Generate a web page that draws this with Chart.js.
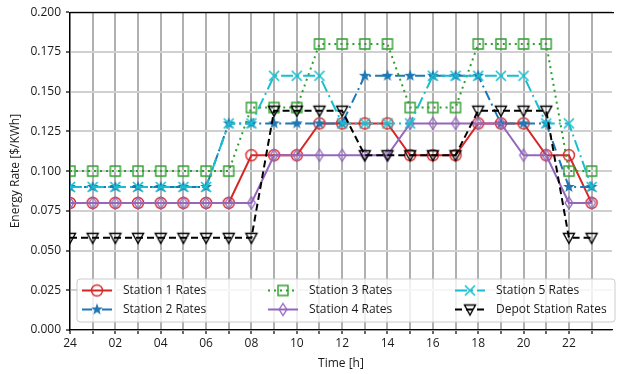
<!DOCTYPE html>
<html><head><meta charset="utf-8">
<script src="https://cdn.jsdelivr.net/npm/chart.js@4/dist/chart.umd.min.js"></script>
<style>html,body{margin:0;padding:0;background:#fff}#wrap{width:620px;height:374px}</style>
</head><body><div id="wrap"><canvas id="c" width="620" height="374"></canvas></div>
<script>
const hours = [0,1,2,3,4,5,6,7,8,9,10,11,12,13,14,15,16,17,18,19,20,21,22,23];
const station1 = [0.08,0.08,0.08,0.08,0.08,0.08,0.08,0.08,0.11,0.11,0.11,0.13,0.13,0.13,0.13,0.11,0.11,0.11,0.13,0.13,0.13,0.11,0.11,0.08];
const station2 = [0.09,0.09,0.09,0.09,0.09,0.09,0.09,0.13,0.13,0.13,0.13,0.13,0.13,0.16,0.16,0.16,0.16,0.16,0.16,0.13,0.13,0.13,0.09,0.09];
const station3 = [0.10,0.10,0.10,0.10,0.10,0.10,0.10,0.10,0.14,0.14,0.14,0.18,0.18,0.18,0.18,0.14,0.14,0.14,0.18,0.18,0.18,0.18,0.10,0.10];
const station4 = [0.08,0.08,0.08,0.08,0.08,0.08,0.08,0.08,0.08,0.11,0.11,0.11,0.11,0.11,0.11,0.13,0.13,0.13,0.13,0.13,0.11,0.11,0.08,0.08];
const station5 = [0.09,0.09,0.09,0.09,0.09,0.09,0.09,0.13,0.13,0.16,0.16,0.16,0.13,0.13,0.13,0.13,0.16,0.16,0.16,0.16,0.16,0.13,0.13,0.09];
const depot    = [0.058,0.058,0.058,0.058,0.058,0.058,0.058,0.058,0.058,0.138,0.138,0.138,0.138,0.11,0.11,0.11,0.11,0.11,0.138,0.138,0.138,0.138,0.058,0.058];
const seriesNames = ['Station 1 Rates','Station 2 Rates','Station 3 Rates','Station 4 Rates','Station 5 Rates','Depot Station Rates'];
const yTicks = [0,0.025,0.05,0.075,0.1,0.125,0.15,0.175,0.2];

const FONT = '"Open Sans", "DejaVu Sans", sans-serif';

function makeMarker(kind, color) {
  const c = document.createElement('canvas');
  c.width = 18; c.height = 18;
  const g = c.getContext('2d');
  g.translate(9, 9);
  g.strokeStyle = color; g.fillStyle = color; g.lineWidth = 1.4;
  g.beginPath();
  if (kind === 'circle') { g.arc(0, 0, 5.5, 0, Math.PI * 2); g.stroke(); }
  else if (kind === 'square') { g.rect(-5, -5, 10, 10); g.stroke(); }
  else if (kind === 'star') {
    for (let i = 0; i < 10; i++) {
      const r = i % 2 === 0 ? 6.2 : 2.6;
      const a = -Math.PI / 2 + i * Math.PI / 5;
      const px = r * Math.cos(a), py = r * Math.sin(a);
      if (i === 0) g.moveTo(px, py); else g.lineTo(px, py);
    }
    g.closePath(); g.fill();
  }
  else if (kind === 'diamond') { g.moveTo(0, -6); g.lineTo(3.8, 0); g.lineTo(0, 6); g.lineTo(-3.8, 0); g.closePath(); g.stroke(); }
  else if (kind === 'x') { g.lineWidth = 1.6; g.moveTo(-5, -5); g.lineTo(5, 5); g.moveTo(5, -5); g.lineTo(-5, 5); g.stroke(); }
  else if (kind === 'tri') { g.moveTo(-5.5, -4.5); g.lineTo(5.5, -4.5); g.lineTo(0, 5.5); g.closePath(); g.stroke(); }
  return c;
}

const styles = [
  {color:'#d62728', dash:[], marker:'circle'},
  {color:'#1f77b4', dash:[10,4,2,4], marker:'star'},
  {color:'#2ca02c', dash:[2,4], marker:'square'},
  {color:'#9467bd', dash:[], marker:'diamond'},
  {color:'#17becf', dash:[12,4,2,4], marker:'x'},
  {color:'#000000', dash:[7,4], marker:'tri'}
];
const allSeries = [station1, station2, station3, station4, station5, depot];
const markers = styles.map(s => makeMarker(s.marker, s.color));

const datasets = allSeries.map((s, i) => ({
  label: seriesNames[i],
  data: hours.map((h, k) => ({x: h, y: s[k]})),
  borderColor: styles[i].color,
  borderWidth: 2,
  borderDash: styles[i].dash,
  pointStyle: markers[i],
  pointRadius: 6,
  tension: 0,
  fill: false,
  order: 5 - i
}));

const overlay = {
  id: 'overlay',
  afterDraw(chart) {
    const ctx = chart.ctx, a = chart.chartArea;
    ctx.save();
    ctx.strokeStyle = '#000'; ctx.lineWidth = 1.3;
    ctx.beginPath(); ctx.moveTo(a.left, a.top + 0.5); ctx.lineTo(a.right + 2, a.top + 0.5); ctx.stroke();
    // legend
    const bx = 77, by = 279, bw = 538, bh = 43, r = 3;
    ctx.fillStyle = 'rgba(255,255,255,0.8)';
    ctx.strokeStyle = '#cccccc'; ctx.lineWidth = 1;
    ctx.beginPath();
    ctx.moveTo(bx + r, by); ctx.lineTo(bx + bw - r, by); ctx.arcTo(bx + bw, by, bx + bw, by + r, r);
    ctx.lineTo(bx + bw, by + bh - r); ctx.arcTo(bx + bw, by + bh, bx + bw - r, by + bh, r);
    ctx.lineTo(bx + r, by + bh); ctx.arcTo(bx, by + bh, bx, by + bh - r, r);
    ctx.lineTo(bx, by + r); ctx.arcTo(bx, by, bx + r, by, r); ctx.closePath();
    ctx.fill(); ctx.stroke();
    const colX = [82, 268, 455];
    const rowY = [290.5, 309.5];
    ctx.font = '12px ' + FONT;
    ctx.textBaseline = 'middle';
    for (let i = 0; i < 6; i++) {
      const col = Math.floor(i / 2), row = i % 2;
      const x0 = colX[col], y0 = rowY[row];
      ctx.strokeStyle = styles[i].color; ctx.lineWidth = 2; ctx.setLineDash(styles[i].dash);
      ctx.beginPath(); ctx.moveTo(x0, y0); ctx.lineTo(x0 + 30, y0); ctx.stroke();
      ctx.setLineDash([]);
      ctx.drawImage(markers[i], x0 + 15 - 9, y0 - 9);
      ctx.fillStyle = '#1a1a1a';
      ctx.fillText(seriesNames[i], x0 + 41, y0 + 0.5);
    }
    ctx.restore();
  }
};

new Chart(document.getElementById('c'), {
  type: 'line',
  data: { datasets },
  options: {
    responsive: false,
    animation: false,
    events: [],
    layout: { padding: { top: 11, right: 0, left: 0, bottom: 0 } },
    plugins: { legend: { display: false }, tooltip: { enabled: false } },
    scales: {
      x: {
        type: 'linear', min: 0, max: 23.9,
        afterFit(s) { s.height = 44; },
        afterBuildTicks(s) { s.ticks = hours.map(h => ({value: h})); },
        ticks: {
          stepSize: 1, autoSkip: false, maxRotation: 0, padding: 2,
          color: '#1a1a1a', font: { family: FONT, size: 12 },
          callback: v => (v % 2 === 0 ? (v === 0 ? '24' : String(v).padStart(2, '0')) : '')
        },
        grid: { color: '#b0b0b0', lineWidth: 2, tickLength: 4, tickColor: '#000', tickWidth: 1.2 },
        border: { display: true, color: '#000', width: 1.3 },
        title: { display: true, text: 'Time [h]', color: '#1a1a1a', font: { family: FONT, size: 12 }, padding: { top: 0, bottom: 3 } }
      },
      y: {
        min: 0, max: 0.2,
        afterFit(s) { s.width = 70; },
        afterBuildTicks(s) { s.ticks = yTicks.map(v => ({value: v})); },
        ticks: {
          stepSize: 0.025, padding: 5,
          color: '#1a1a1a', font: { family: FONT, size: 12 },
          callback: v => v.toFixed(3)
        },
        grid: { color: '#d0d0d0', lineWidth: 2, tickLength: 4, tickColor: '#000', tickWidth: 1.2 },
        border: { display: true, color: '#000', width: 1.3 },
        title: { display: true, text: 'Energy Rate [$/KWh]', color: '#1a1a1a', font: { family: FONT, size: 12 }, padding: { top: 8, bottom: 0 } }
      }
    }
  },
  plugins: [overlay]
});
</script>
</body></html>
